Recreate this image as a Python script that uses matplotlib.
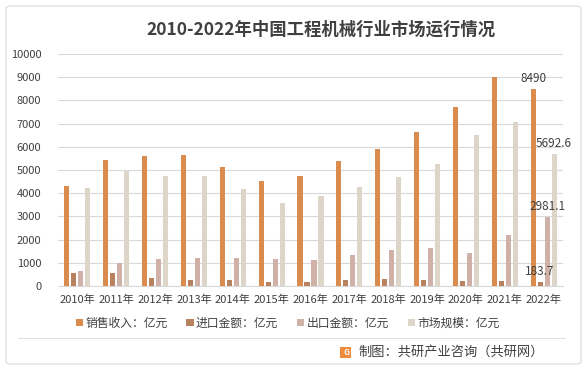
import numpy as np
import matplotlib.pyplot as plt
from matplotlib.patches import Rectangle, FancyBboxPatch

plt.rcParams['font.family'] = ['Noto Sans CJK SC', 'DejaVu Sans']

years = ['2010年', '2011年', '2012年', '2013年', '2014年', '2015年', '2016年',
         '2017年', '2018年', '2019年', '2020年', '2021年', '2022年']
sales = [4320, 5430, 5590, 5630, 5140, 4530, 4750, 5390, 5900, 6640, 7700, 9010, 8490]
imports = [550, 550, 330, 260, 260, 170, 160, 260, 300, 260, 230, 230, 183.7]
exports = [660, 1005, 1160, 1200, 1200, 1160, 1120, 1340, 1540, 1650, 1420, 2200, 2981.1]
market = [4210, 4970, 4750, 4720, 4180, 3560, 3860, 4280, 4700, 5260, 6520, 7050, 5692.6]

names = ['销售收入：亿元', '进口金额：亿元', '出口金额：亿元', '市场规模：亿元']
colors = ['#D98C4E', '#B8825F', '#CFB1A8', '#DDD6C8']
series = [sales, imports, exports, market]

fig = plt.figure(figsize=(5.87, 3.69), dpi=100)
ax = fig.add_axes([58 / 587, 1 - 286 / 369, (563 - 58) / 587, (286 - 54) / 369])

x = np.arange(len(years))
step = 0.18
width = 0.13
for i, (vals, c, n) in enumerate(zip(series, colors, names)):
    pos = x + (i - 1.5) * step
    ax.bar(pos, vals, width=width, color=c, label=n, zorder=3)
    # label the last year
    v = vals[-1]
    txt = f'{v:g}' if v != int(v) else f'{int(v)}'
    ax.text(pos[-1], v + 180, txt, ha='center', va='bottom', fontsize=8.5,
            fontweight='medium', color='#404040', zorder=4)

ax.set_xlim(-0.5, len(years) - 0.5)
ax.set_ylim(0, 10000)
ax.set_yticks(range(0, 10001, 1000))
ax.set_xticks(x)
ax.set_xticklabels(years, fontsize=8, color='#404040', fontweight='medium')
for lab in ax.get_yticklabels():
    lab.set_fontweight('medium')
ax.tick_params(axis='y', labelsize=8, colors='#404040', length=0, pad=12)
ax.tick_params(axis='x', length=0, pad=6)
ax.grid(axis='y', color='#D9D9D9', linewidth=0.8, zorder=0)
for s in ['top', 'right', 'left']:
    ax.spines[s].set_visible(False)
ax.spines['bottom'].set_color('#D9D9D9')

fig.text(0.547, 1 - 30 / 369, '2010-2022年中国工程机械行业市场运行情况', ha='center',
         va='center', fontsize=12.5, fontweight='bold', color='#404040')

leg = fig.legend(loc='center', bbox_to_anchor=(0.49, 1 - 323 / 369), ncol=4,
                 frameon=False, fontsize=8.5, handlelength=0.6, handleheight=0.6,
                 columnspacing=1.6, handletextpad=0.2,
                 prop={'size': 8.5, 'weight': 'medium'})
for t in leg.get_texts():
    t.set_color('#404040')

# separator and frame
fig.add_artist(plt.Line2D([18 / 587, 565 / 587], [1 - 338 / 369, 1 - 338 / 369],
                          color='#E3E3E3', linewidth=0.8))
fig.add_artist(FancyBboxPatch((6 / 587, 5 / 369), 575 / 587, 358 / 369,
                              boxstyle='round,pad=0,rounding_size=0.008',
                              fill=False, edgecolor='#D9D9D9', linewidth=0.8))

# footer
fig.add_artist(Rectangle((340 / 587, 1 - 358 / 369), 11 / 587, 11 / 369,
                         facecolor='#F08A3C', edgecolor='none'))
fig.text(346 / 587, 1 - 352.5 / 369, 'G', ha='center', va='center', fontsize=6,
         fontweight='bold', color='white')
fig.text(358 / 587, 1 - 352 / 369, '制图：共研产业咨询（共研网）', ha='left', va='center',
         fontsize=9.5, fontweight='medium', color='#404040')

fig.savefig('out.png', dpi=100)
